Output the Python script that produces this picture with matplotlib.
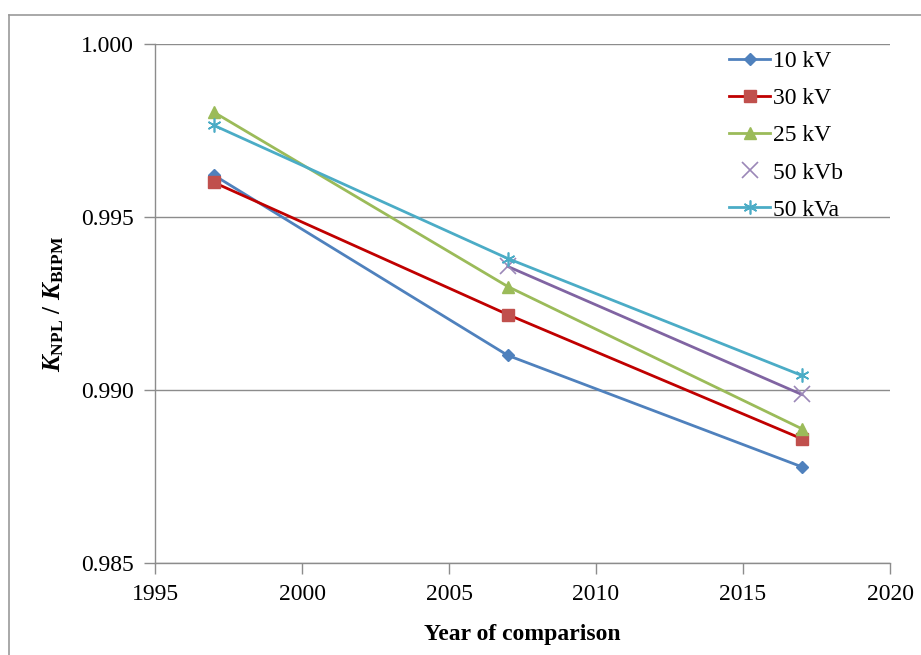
import matplotlib
matplotlib.use("Agg")
import matplotlib.pyplot as plt
from matplotlib.lines import Line2D
from matplotlib.ticker import FormatStrFormatter

plt.rcParams['font.family'] = ['Liberation Serif', 'DejaVu Serif']
plt.rcParams['mathtext.fontset'] = 'custom'
plt.rcParams['mathtext.rm'] = 'Liberation Serif:bold'
plt.rcParams['mathtext.it'] = 'Liberation Serif:italic:bold'
plt.rcParams['mathtext.bf'] = 'Liberation Serif:bold'

years = [1997, 2007, 2017]
years_b = [2007, 2017]
kv10 = [0.99621, 0.99100, 0.98778]
kv30 = [0.99600, 0.99218, 0.98859]
kv25 = [0.99803, 0.99299, 0.98888]
kv50b = [0.99357, 0.98987]
kv50a = [0.99765, 0.99380, 0.99042]
labels = ['10 kV', '30 kV', '25 kV', '50 kVb', '50 kVa']

fig = plt.figure(figsize=(9.21, 6.55), dpi=100)
ax = fig.add_axes([155/921, 1-563/655, (890-155)/921, (563-44)/655])

grid_c = '#8c8c8c'
lw = 2.0
l10, = ax.plot(years, kv10, color='#4F81BD', lw=lw, marker='D', ms=6,
               mfc='#4F81BD', mec='#4F81BD', zorder=3)
l30, = ax.plot(years, kv30, color='#C00000', lw=lw, marker='s', ms=8,
               mfc='#C0504D', mec='#C0504D', zorder=3)
l25, = ax.plot(years, kv25, color='#9BBB59', lw=lw, marker='^', ms=8,
               mfc='#9BBB59', mec='#9BBB59', zorder=3)
l50b, = ax.plot(years_b, kv50b, color='#8064A2', lw=lw, marker='x', ms=11,
                mew=1.2, mec='#9b87b8', zorder=3)
l50a, = ax.plot(years, kv50a, color='#4BACC6', lw=lw, marker=(6, 2, 0), ms=10,
                mew=1.2, mec='#4BACC6', zorder=3)

ax.set_xlim(1995, 2020)
ax.set_ylim(0.985, 1.000)
ax.set_xticks([1995, 2000, 2005, 2010, 2015, 2020])
ax.set_yticks([0.985, 0.990, 0.995, 1.000])
ax.yaxis.set_major_formatter(FormatStrFormatter('%.3f'))
ax.yaxis.grid(True, color=grid_c, lw=1.0)
ax.set_axisbelow(True)
for s in ['top', 'right']:
    ax.spines[s].set_visible(False)
for s in ['left', 'bottom']:
    ax.spines[s].set_color(grid_c)
    ax.spines[s].set_linewidth(1.0)
ax.tick_params(axis='both', direction='out', length=8, width=1.0, color=grid_c,
               labelsize=17, labelcolor='#000000')
ax.tick_params(axis='x', pad=7)
ax.tick_params(axis='y', pad=7)

ax.set_xlabel('Year of comparison', fontsize=17, fontweight='bold', labelpad=14)
ax.set_ylabel(r'$K_{\mathrm{NPL}}\ \mathrm{/}\ K_{\mathrm{BIPM}}$', fontsize=18, labelpad=11)

h50b = Line2D([], [], color='none', marker='x', ms=11, mew=1.2, mec='#9b87b8')
handles = [l10, l30, l25, h50b, l50a]
leg = ax.legend(handles, labels, loc='upper left', bbox_to_anchor=(574/735, 0.987),
                frameon=False, fontsize=17, handlelength=1.75, handletextpad=0.12,
                labelspacing=0.66, borderaxespad=0, borderpad=0)

# outer chart border (left and top edges visible)
fig.add_artist(Line2D([9/921, 9/921], [0, 1-15/655], transform=fig.transFigure,
                      color='#9a9a9a', lw=1.2))
fig.add_artist(Line2D([9/921, 1], [1-15/655, 1-15/655], transform=fig.transFigure,
                      color='#9a9a9a', lw=1.2))

fig.savefig('out.png', dpi=100)
